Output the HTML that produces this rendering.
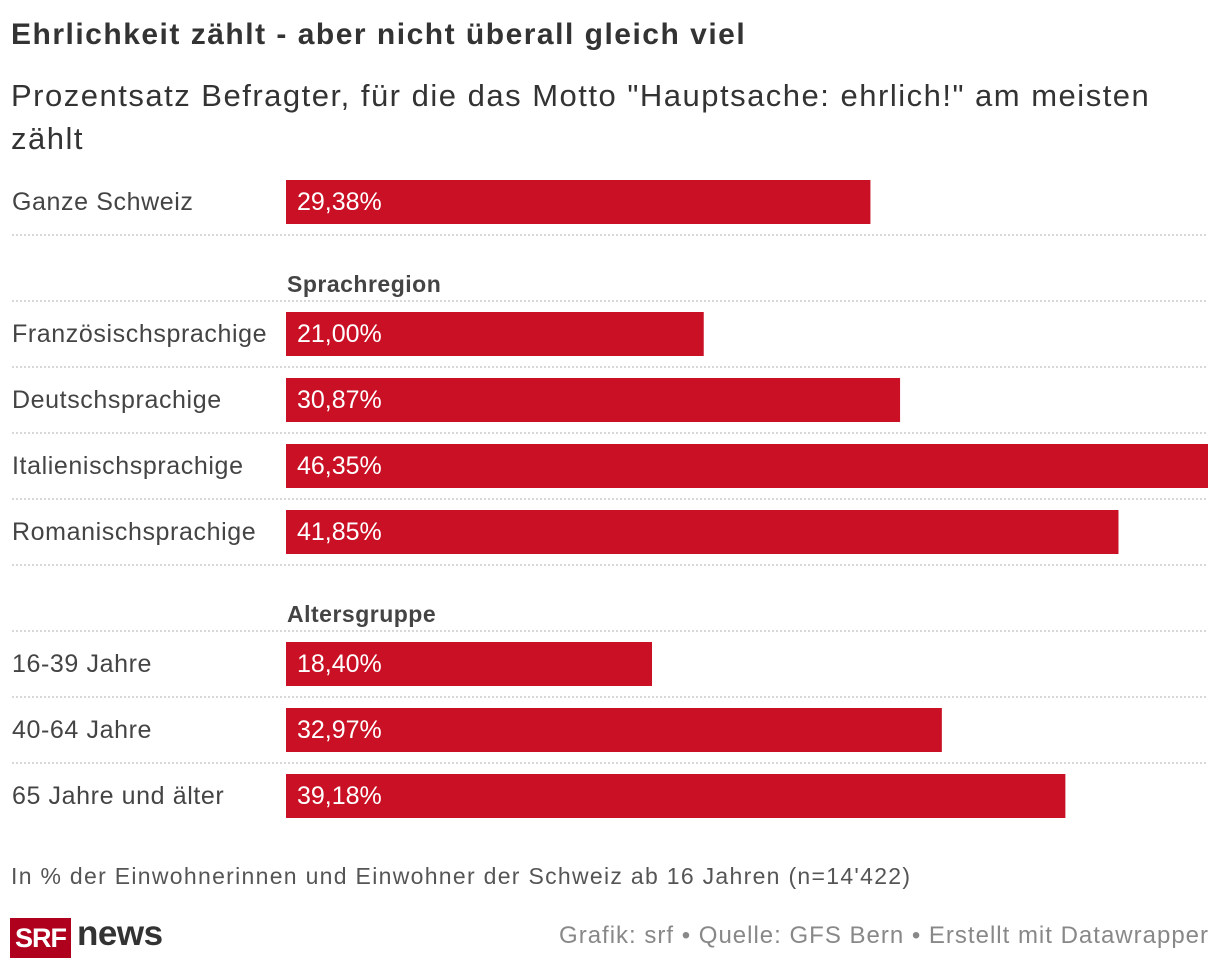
<!DOCTYPE html>
<html><head><meta charset="utf-8"><style>
body{margin:0;width:1220px;height:970px;background:#fff;font-family:"Liberation Sans",sans-serif;color:#333;position:relative;overflow:hidden}
.a{position:absolute;white-space:nowrap}
</style></head><body>
<div class="a" style="left:11px;top:18px;font-size:30px;font-weight:bold;color:#333;letter-spacing:1.5px">Ehrlichkeit zählt - aber nicht überall gleich viel</div>
<div class="a" style="left:11px;top:74px;font-size:31px;color:#333;line-height:43px;white-space:normal;width:1180px;letter-spacing:1.5px">Prozentsatz Befragter, für die das Motto "Hauptsache: ehrlich!" am meisten zählt</div>
<svg class="a" style="left:0;top:0" width="1220" height="970" id="chart"></svg>
<div class="a" style="left:11px;top:863px;font-size:23px;color:#555;letter-spacing:1.3px">In % der Einwohnerinnen und Einwohner der Schweiz ab 16 Jahren (n=14'422)</div>
<div class="a" style="left:10px;top:918px;width:61px;height:40px;background:#af001e;color:#fff;font-weight:bold;font-size:27px;line-height:40px;text-align:center;letter-spacing:-1px">SRF</div>
<div class="a" style="left:77px;top:914px;font-size:35px;font-weight:bold;color:#333;letter-spacing:-0.5px">news</div>
<div class="a" style="right:11px;top:922px;font-size:24px;color:#888;letter-spacing:1px">Grafik: srf • Quelle: GFS Bern • Erstellt mit Datawrapper</div>
<script>
const labels=["Ganze Schweiz","Französischsprachige","Deutschsprachige","Italienischsprachige","Romanischsprachige","16-39 Jahre","40-64 Jahre","65 Jahre und älter"];
const values=[29.38,21.00,30.87,46.35,41.85,18.40,32.97,39.18];
const groups=["","Sprachregion","Sprachregion","Sprachregion","Sprachregion","Altersgruppe","Altersgruppe","Altersgruppe"];
const svg=document.getElementById('chart');const NS='http://www.w3.org/2000/svg';
const x0=286,x1=1208,maxV=46.35;
const xs=v=>v/maxV*(x1-x0);
function mk(t,at){const e=document.createElementNS(NS,t);for(const k in at)e.setAttribute(k,at[k]);svg.appendChild(e);return e;}
function line(y){const l=mk('line',{x1:12,x2:1208,y1:y,y2:y,stroke:'#ccc','stroke-width':1.5,'stroke-dasharray':'2,2'});
}
let y=180,prev="";
labels.forEach((lab,i)=>{
 if(groups[i]!==prev){
  if(i>0){
   const g=mk('text',{x:287,y:y+46,'font-size':23,'font-weight':'bold',fill:'#444','font-family':'Liberation Sans','letter-spacing':0.5});g.textContent=groups[i];
   
   line(y+55);y+=66;}
  prev=groups[i];}
 const r=mk('rect',{x:x0,y:y,width:xs(values[i]),height:44,fill:'#c91024'});
 
 const t=mk('text',{x:12,y:y+30,'font-size':25,fill:'#444','font-family':'Liberation Sans','letter-spacing':0.6});t.textContent=lab;
 
 const v=mk('text',{x:297,y:y+30,'font-size':25,fill:'#fff','font-family':'Liberation Sans'});v.textContent=values[i].toFixed(2).replace('.',',')+'%';
 
 if(i<labels.length-1)line(y+55);
 y+=66;
});
</script>
</body></html>
